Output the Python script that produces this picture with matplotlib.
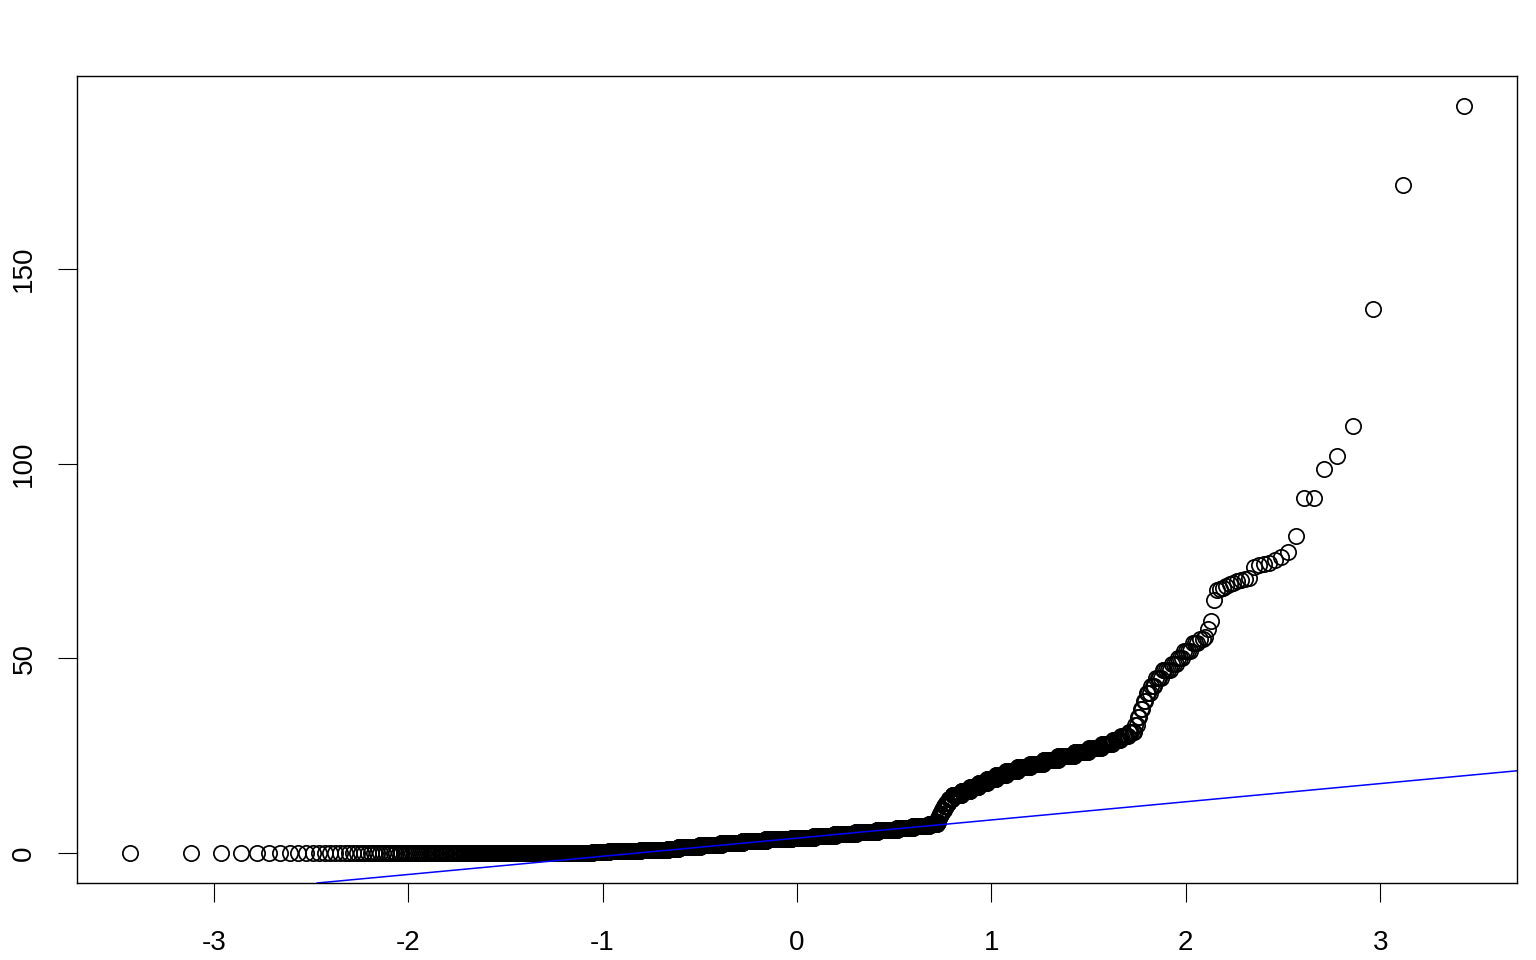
import matplotlib
matplotlib.use("Agg")
import matplotlib.pyplot as plt
import numpy as np
from statistics import NormalDist

body_values = [0, 0.1, 0.25, 0.5, 0.7, 1.0, 1.5, 2.0, 2.5, 3.0, 3.5, 4.0, 4.5, 5.0,
               5.5, 6.0, 6.5, 7.0, 7.5, 8, 9, 10, 11, 12, 13, 14, 15, 16, 17, 18,
               19, 20, 21, 22, 23, 24, 25, 26, 27, 28, 29, 30, 31, 33, 35, 37, 39,
               41, 43, 45, 47, 48.5, 50, 52, 54, 55]
body_counts = [224, 18, 33, 72, 71, 29, 62, 66, 68, 77, 87, 75, 70, 69,
               68, 61, 45, 45, 21, 3, 4, 5, 6, 6, 6, 9, 22, 20, 19, 18,
               19, 19, 21, 22, 21, 21, 21, 17, 13, 11, 7, 6, 5, 2, 2, 2, 2,
               3, 3, 4, 5, 3, 3, 4, 3, 2]

# the largest 30 observations, one by one (largest first)
top_values = [191.9, 171.6, 139.7, 109.7, 102.0, 98.6, 91.2, 91.2, 81.4, 77.3,
              76.0, 75.3, 74.5, 74.2, 74.0, 73.6, 70.6, 70.4, 70.1, 69.8,
              69.5, 69.0, 68.6, 68.2, 67.8, 67.5, 65.0, 59.5, 57.5, 55.5]

sample = np.concatenate([np.repeat(body_values, body_counts), top_values[::-1]])
y = np.sort(sample)
n = len(y)

# theoretical quantiles like R's qqnorm (ppoints)
nd = NormalDist()
x = np.array([nd.inv_cdf((i - 0.5) / n) for i in range(1, n + 1)])

# qqline through the quartiles
yq = np.quantile(y, [0.25, 0.75])
xq = np.array([nd.inv_cdf(0.25), nd.inv_cdf(0.75)])
slope = (yq[1] - yq[0]) / (xq[1] - xq[0])
intercept = yq[0] - slope * xq[0]

plt.rcParams['font.family'] = ['Liberation Sans', 'DejaVu Sans']
plt.rcParams['axes.unicode_minus'] = False

fig = plt.figure(figsize=(15.36, 9.6), dpi=100)
ax = fig.add_axes([0.0501, 0.0802, 0.9375, 0.8406])

ax.plot(x, y, linestyle='none', marker='o', markersize=11,
        markerfacecolor='none', markeredgecolor='black', markeredgewidth=1.25)
ax.margins(0.04)
ax.axline((0, intercept), slope=slope, color='blue', linewidth=1.1)

ax.set_xticks([-3, -2, -1, 0, 1, 2, 3])
ax.set_yticks([0, 50, 100, 150])
ax.tick_params(axis='both', length=13.5, width=0.8, labelsize=20, color='black')
ax.tick_params(axis='x', pad=20)
ax.tick_params(axis='y', pad=15, labelrotation=90)
for lab in ax.get_yticklabels():
    lab.set_va('center')
for s in ax.spines.values():
    s.set_linewidth(1.0)

fig.savefig('out.png', dpi=100)
